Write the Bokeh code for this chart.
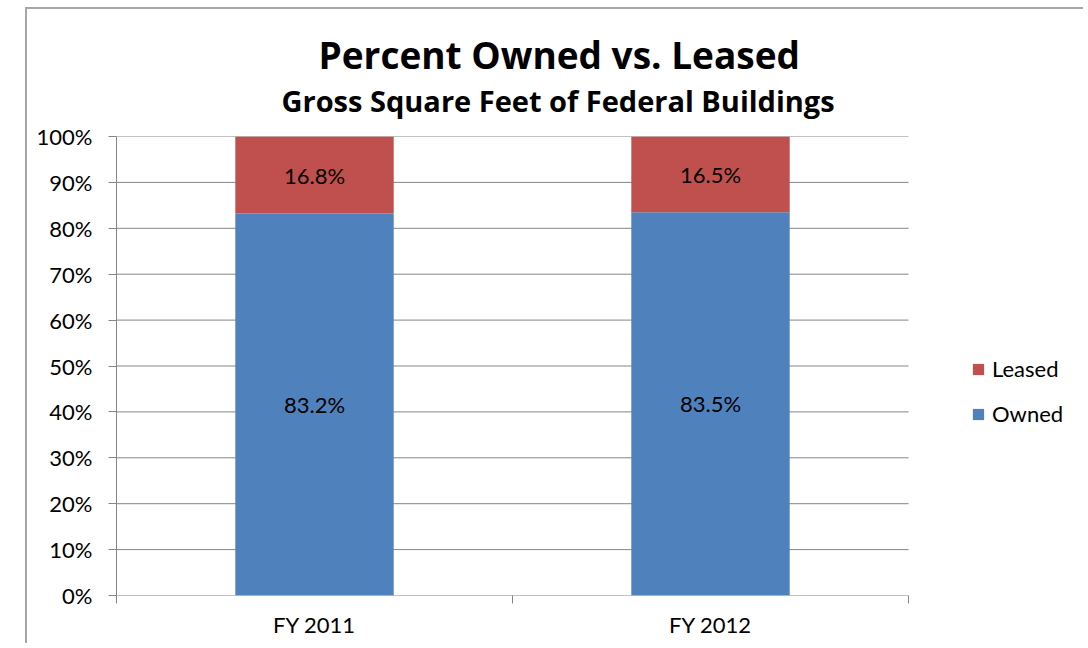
from bokeh.plotting import figure
from bokeh.models import (Range1d, FixedTicker, NumeralTickFormatter, Title, Legend,
                          LegendItem, ColumnDataSource)
from bokeh.core.properties import value
from bokeh.embed import file_html
from bokeh.resources import INLINE

categories = ["FY 2011", "FY 2012"]
owned = [83.2, 83.5]
leased = [16.8, 16.5]
y_ticks = [0, 10, 20, 30, 40, 50, 60, 70, 80, 90, 100]

FONT = "Lato"
TFONT = "Open Sans"
RED = "#C0504D"
BLUE = "#4F81BD"
GRID = "#868686"

# layout (pixels inside the canvas)
W, H = 1058, 636
LEFT, TOP, BOTTOM = 89, 127, 50
DATA_PX = 792          # width of the category area
FRAME_PX = W - LEFT    # frame runs to the right edge so the legend is not clipped
n = len(categories)
x_end = n * FRAME_PX / DATA_PX

xc = [i + 0.5 for i in range(n)]
src = ColumnDataSource(dict(
    x=xc,
    owned_top=[o / 100 for o in owned],
    leased_top=[(o + l) / 100 for o, l in zip(owned, leased)],
    owned_mid=[o / 200 for o in owned],
    leased_mid=[(o + l / 2) / 100 for o, l in zip(owned, leased)],
    owned_txt=[f"{o:.1f}%" for o in owned],
    leased_txt=[f"{l:.1f}%" for l in leased],
))
grid_src = ColumnDataSource(dict(
    x0=[0] * len(y_ticks), x1=[n] * len(y_ticks), y=[t / 100 for t in y_ticks]))

p = figure(width=W, height=H, output_backend="svg", toolbar_location=None,
           x_range=Range1d(0, x_end), y_range=Range1d(0, 1),
           min_border_left=LEFT, min_border_right=0, min_border_top=TOP,
           min_border_bottom=BOTTOM)
p.margin = (7, 0, 0, 25)
p.styles = {"border-left": "2px solid #a6a6a6", "border-top": "2px solid #a6a6a6"}
p.outline_line_color = None
p.background_fill_color = "white"
p.border_fill_color = "white"

# gridlines only across the category area
p.segment(x0="x0", x1="x1", y0="y", y1="y", source=grid_src,
          line_color=GRID, line_width=1)

r_own = p.vbar(x="x", width=0.4, bottom=0, top="owned_top", source=src,
               fill_color=BLUE, line_color=None)
r_lea = p.vbar(x="x", width=0.4, bottom="owned_top", top="leased_top", source=src,
               fill_color=RED, line_color=None)

p.text(x="x", y="owned_mid", text="owned_txt", source=src, text_align="center",
       text_baseline="middle", text_font=value(FONT), text_font_size="22px",
       text_color="black")
p.text(x="x", y="leased_mid", text="leased_txt", source=src, text_align="center",
       text_baseline="middle", text_font=value(FONT), text_font_size="22px",
       text_color="black")

# axes
yax = p.yaxis[0]
yax.ticker = FixedTicker(ticks=[t / 100 for t in y_ticks])
yax.formatter = NumeralTickFormatter(format="0%")
yax.axis_line_color = GRID
yax.major_tick_line_color = GRID
yax.major_tick_out = 8
yax.major_tick_in = 0
yax.minor_tick_line_color = None
yax.major_label_text_font = FONT
yax.major_label_text_font_size = "22px"
yax.major_label_text_color = "black"
yax.major_label_standoff = 16

xax = p.xaxis[0]
xax.ticker = FixedTicker(ticks=xc, minor_ticks=list(range(n + 1)))
xax.major_label_overrides = {x: c for x, c in zip(xc, categories)}
xax.axis_line_color = None
xax.major_tick_line_color = None
xax.major_tick_out = 0
xax.major_tick_in = 0
xax.minor_tick_line_color = GRID
xax.minor_tick_out = 8
xax.minor_tick_in = 0
xax.major_label_text_font = FONT
xax.major_label_text_font_size = "22px"
xax.major_label_text_color = "black"
xax.major_label_standoff = 7

p.xgrid.grid_line_color = None
p.ygrid.grid_line_color = None

# titles, left-aligned with offsets so that they are centred on the chart (x ~ 557)
sub = Title(text="Gross Square Feet of Federal Buildings", align="left",
            offset=165, text_font=TFONT, text_font_size="29px",
            text_font_style="bold", text_color="black", standoff=33)
main = Title(text="Percent Owned vs. Leased", align="left", offset=202,
             text_font=TFONT, text_font_size="37px", text_font_style="bold",
             text_color="black", standoff=-35)
p.add_layout(sub, "above")
p.add_layout(main, "above")

legend = Legend(items=[LegendItem(label="Leased", renderers=[r_lea]),
                       LegendItem(label="Owned", renderers=[r_own])],
                location=(855, 168), padding=0, margin=0, spacing=18,
                glyph_width=14, glyph_height=14, label_standoff=7,
                label_text_font=FONT, label_text_font_size="22px",
                label_text_color="black", border_line_color=None,
                background_fill_alpha=0)
p.add_layout(legend, "center")

open("out.html", "w").write(file_html(p, INLINE))
